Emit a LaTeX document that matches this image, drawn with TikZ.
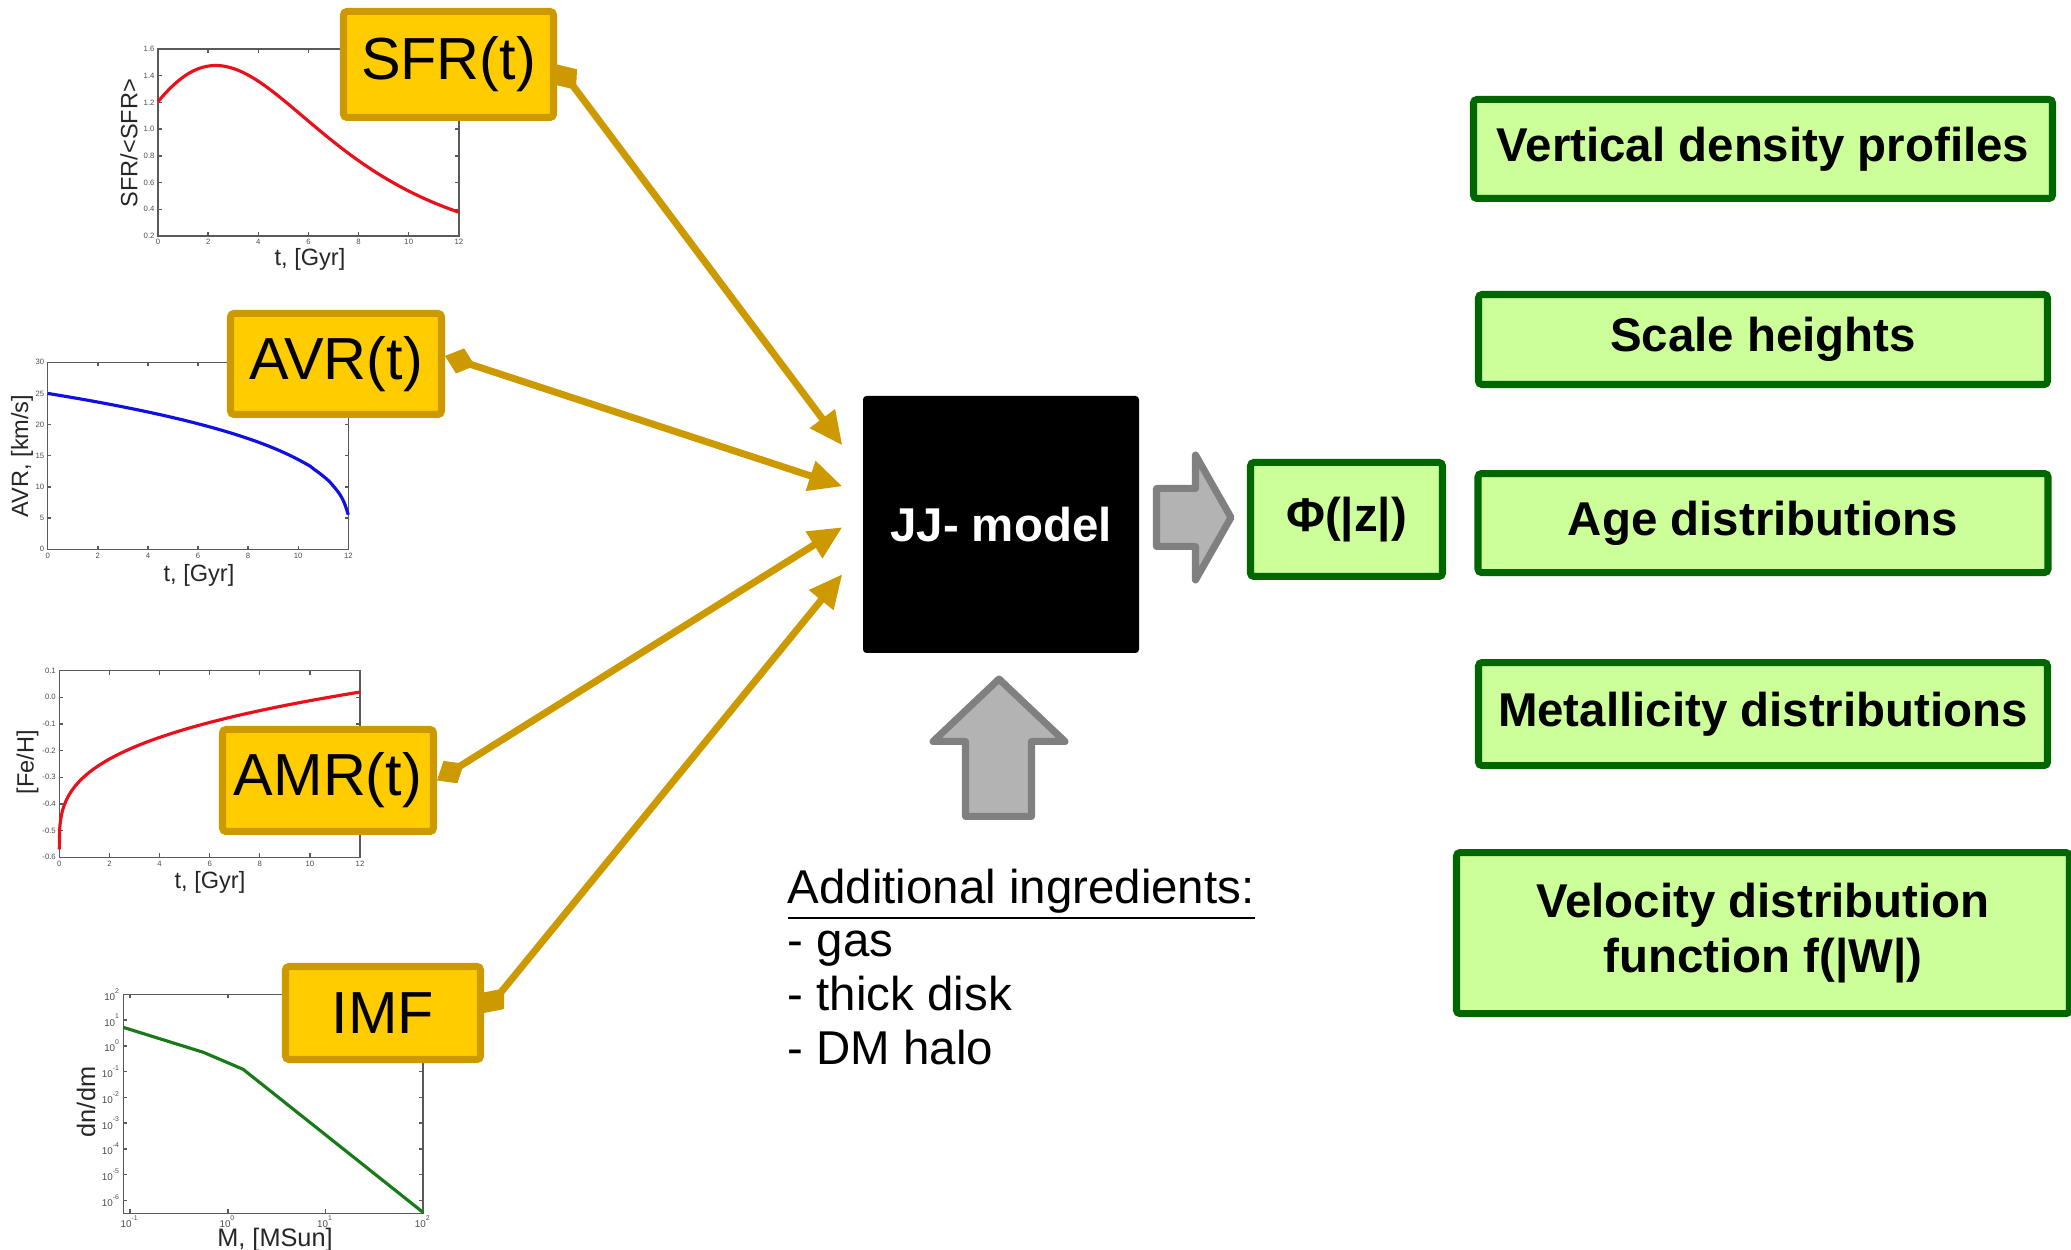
\documentclass[tikz,border=0pt]{standalone}
\usepackage{fontspec}
\setmainfont{Liberation Sans}
\usepackage{tikz}
\usetikzlibrary{arrows.meta,positioning,calc}
\definecolor{infill}{HTML}{FFCC00}
\definecolor{inedge}{HTML}{CC9900}
\definecolor{outfill}{HTML}{CCFF99}
\definecolor{outedge}{HTML}{006600}
\definecolor{blockfill}{HTML}{B3B3B3}
\definecolor{blockedge}{HTML}{808080}
\definecolor{sfrred}{HTML}{E8101A}
\definecolor{avrblue}{HTML}{1010E0}
\definecolor{imfgreen}{HTML}{1A7A1A}
\tikzset{
  inbox/.style    = {draw=inedge, fill=infill, line width=2pt, rounded corners=1pt,
                     inner sep=0pt, font=\fontsize{16.9}{20.3}\selectfont},
  outbox/.style   = {draw=outedge, fill=outfill, line width=2pt, rounded corners=1pt,
                     inner sep=0pt, align=center, font=\fontsize{13.5}{15.4}\selectfont\bfseries},
  model/.style    = {fill=black, rounded corners=1pt, inner sep=0pt, text=white,
                     font=\fontsize{13.5}{15.4}\selectfont\bfseries},
  link/.style     = {{Diamond[length=9pt,width=7.5pt]}-{Triangle[length=9.5pt,width=8.5pt]},
                     line width=2pt, draw=inedge},
  fatarrow/.style = {draw=blockedge, fill=blockfill, line width=2pt, line join=round},
  plotframe/.style= {draw=black!65, line width=0.4pt},
  curve/.style    = {line width=0.9pt},
  ticklbl/.style  = {font=\fontsize{2.2}{2.6}\selectfont, text=black!70, inner sep=0.8pt},
  logtick/.style  = {ticklbl, font=\fontsize{2.8}{3.2}\selectfont, inner sep=0.5pt},
  axlbl/.style    = {font=\fontsize{6.7}{8}\selectfont, text=black!85, inner sep=0pt},
  notes/.style    = {align=left, inner sep=0pt, font=\fontsize{13.5}{15.3}\selectfont},
}
\begin{document}
\begin{tikzpicture}
  \useasboundingbox (0,0) rectangle (20.71,12.5);

  \begin{scope}[shift={(1.58,9.873)}, x=0.2508cm, y=1.3357cm]
    \draw[plotframe] (0,0.2) rectangle (12,1.6);
    \foreach \xv in {0,2,...,12} {
      \draw[plotframe] (\xv,0.2) -- ++(0,0.03) (\xv,1.6) -- ++(0,-0.03);
      \node[ticklbl, below] at (\xv,0.2) {\xv};
    }
    \foreach \yv in {0.2,0.4,0.6,0.8,1.0,1.2,1.4,1.6} {
      \draw[plotframe] (0,\yv) -- ++(0.15,0) (12,\yv) -- ++(-0.15,0);
      \node[ticklbl, left] at (0,\yv) {\yv};
    }
    \draw[curve, sfrred] plot[domain=0:12, samples=80, smooth]
      (\x, {1.205*(\x+5.3)/5.3*(64.63/(\x*\x+64.63))^2});
  \end{scope}
  \node[axlbl, rotate=90] (sfrylab) at (1.29,11.07) {SFR/<SFR>};
  \node[axlbl] (sfrxlab) at (3.10,9.91) {t, [Gyr]};

  \begin{scope}[shift={(0.477,7.007)}, x=0.2505cm, y=0.06233cm]
    \draw[plotframe] (0,0) rectangle (12,30);
    \foreach \xv in {0,2,...,12} {
      \draw[plotframe] (\xv,0) -- ++(0,0.6) (\xv,30) -- ++(0,-0.6);
      \node[ticklbl, below] at (\xv,0) {\xv};
    }
    \foreach \yv in {0,5,...,30} {
      \draw[plotframe] (0,\yv) -- ++(0.15,0) (12,\yv) -- ++(-0.15,0);
      \node[ticklbl, left] at (0,\yv) {\yv};
    }
    \draw[curve, avrblue] plot[domain=0:12, samples=80, smooth] (\x, {25*((12.1-\x)/12.1)^0.316});
  \end{scope}
  \node[axlbl, rotate=90] (avrylab) at (0.22,7.94) {AVR, [km/s]};
  \node[axlbl] (avrxlab) at (1.99,6.75) {t, [Gyr]};

  \begin{scope}[shift={(0.593,5.5266)}, x=0.2506cm, y=2.666cm]
    \draw[plotframe] (0,-0.6) rectangle (12,0.1);
    \foreach \xv in {0,2,...,12} {
      \draw[plotframe] (\xv,-0.6) -- ++(0,0.015) (\xv,0.1) -- ++(0,-0.015);
      \node[ticklbl, below] at (\xv,-0.6) {\xv};
    }
    \foreach \yv/\ytxt in {-0.6/-0.6,-0.5/-0.5,-0.4/-0.4,-0.3/-0.3,-0.2/-0.2,-0.1/-0.1,0/0.0,0.1/0.1} {
      \draw[plotframe] (0,\yv) -- ++(0.15,0) (12,\yv) -- ++(-0.15,0);
      \node[ticklbl, left] at (0,\yv) {\ytxt};
    }
    \draw[curve, sfrred] (0,-0.57) -- plot[domain=0.12:3.4641, samples=70, smooth]
      ({\x*\x}, {-0.57+0.273*(\x*\x)^0.31});
  \end{scope}
  \node[axlbl, rotate=90] (amrylab) at (0.275,4.88) {[Fe/H]};
  \node[axlbl] (amrxlab) at (2.10,3.68) {t, [Gyr]};

  \begin{scope}[shift={(2.278,2.041)}, x=0.977cm, y=0.2575cm]
    \draw[plotframe] (-1.07,-6.5) rectangle (2,2);
    \foreach \xv in {-1,0,1,2} {
      \draw[plotframe] (\xv,-6.5) -- ++(0,0.15) (\xv,2) -- ++(0,-0.15);
      \node[logtick, below] at (\xv,-6.5) {10\textsuperscript{\xv}};
    }
    \foreach \yv in {-6,...,2} {
      \draw[plotframe] (-1.07,\yv) -- ++(0.04,0) (2,\yv) -- ++(-0.04,0);
      \node[logtick, left] at (-1.07,\yv) {10\textsuperscript{\yv}};
    }
    \draw[curve, imfgreen] (-1.07,0.72) -- (-0.25,-0.25) -- (0.157,-0.91) -- (2,-6.47);
  \end{scope}
  \node[axlbl, rotate=90, font=\fontsize{7.2}{8.5}\selectfont] (imfylab) at (0.86,1.48) {dn/dm};
  \node[axlbl, font=\fontsize{7.2}{8.5}\selectfont] (imfxlab) at (2.75,0.10) {M, [MSun]};

  \node[inbox, minimum width=2.10cm, minimum height=1.06cm] (sfr) at (4.485,11.855) {SFR(t)};
  \node[inbox, minimum width=2.11cm, minimum height=1.01cm] (avr) at (3.36,8.86) {AVR(t)};
  \node[inbox, minimum width=2.11cm, minimum height=1.02cm] (amr) at (3.28,4.695) {AMR(t)};
  \node[inbox, minimum width=1.95cm, minimum height=0.93cm] (imf) at (3.83,2.37) {IMF};

  \node[model, minimum width=2.76cm, minimum height=2.57cm] (jj) at (10.01,7.255) {JJ- model};
  \node[outbox, minimum width=1.92cm, minimum height=1.14cm] (phi) at (13.465,7.305) {Φ(|z|)};

  \node[outbox, minimum width=5.79cm, minimum height=0.99cm] (vdp) at (17.63,11.01) {Vertical density profiles};
  \node[outbox, minimum width=5.69cm, minimum height=0.90cm, below=0.89cm of vdp] (sh) {Scale heights};
  \node[outbox, minimum width=5.70cm, minimum height=0.99cm, below=0.82cm of sh] (age) {Age distributions};
  \node[outbox, minimum width=5.69cm, minimum height=1.03cm, below=0.83cm of age] (met) {Metallicity distributions};
  \node[outbox, minimum width=6.13cm, minimum height=1.61cm, below=0.80cm of met] (vel) {Velocity distribution\\function f(|W|)};

  \coordinate (in1) at ($(jj.north west)+(-0.20,-0.50)$);
  \coordinate (in2) at ($(jj.north west)+(-0.20,-0.91)$);
  \coordinate (in3) at ($(jj.north west)+(-0.20,-1.32)$);
  \coordinate (in4) at ($(jj.north west)+(-0.20,-1.79)$);
  \draw[link] (sfr.east) -- (in1);
  \draw[link] ([yshift=0.08cm]avr.east) -- (in2);
  \draw[link] (amr.east) -- (in3);
  \draw[link] (imf.east) -- (in4);

  \draw[fatarrow] (11.565,7.615) -- (11.955,7.615) -- (11.955,7.95) -- (12.31,7.325)
    -- (11.955,6.70) -- (11.955,7.035) -- (11.565,7.035) -- cycle;
  \draw[fatarrow] (9.655,4.335) -- (9.655,5.085) -- (9.33,5.085) -- (9.99,5.71)
    -- (10.65,5.085) -- (10.315,5.085) -- (10.315,4.335) -- cycle;

  \node[notes, anchor=north west] (extra) at (7.87,3.82)
    {\underline{Additional ingredients:}\\- gas\\- thick disk\\- DM halo};
\end{tikzpicture}
\end{document}
